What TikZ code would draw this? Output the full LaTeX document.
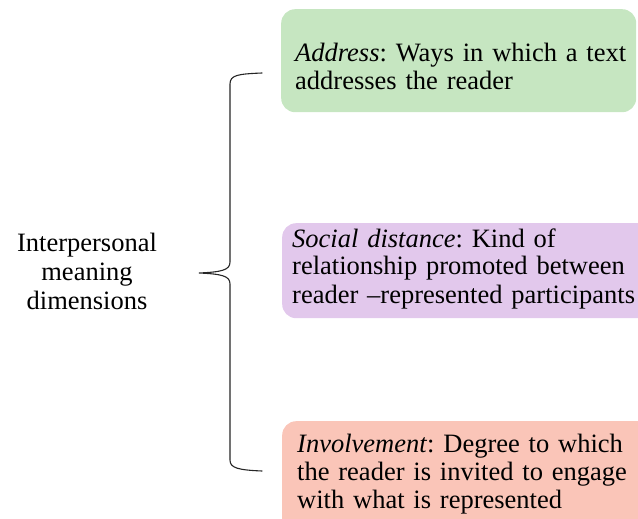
\documentclass[tikz,border=0pt]{standalone}
\usepackage{fontspec}
\setmainfont{Liberation Serif}
\definecolor{addressgreen}{RGB}{198,230,193}
\definecolor{socialpurple}{RGB}{226,200,236}
\definecolor{involvepink}{RGB}{250,197,184}
\tikzset{
    dimbox/.style = {draw=none, rounded corners=14pt, anchor=north west, inner sep=0pt},
    dimtext/.style = {anchor=base west, inner sep=0pt, text width=350pt, align=left,
        font=\fontsize{26.5}{28}\selectfont\frenchspacing},
    bracket/.style = {line width=1.1pt, black!85, line cap=round}
}
\begin{document}
\begin{tikzpicture}[x=1pt, y=-1pt]
    \useasboundingbox (0,0) rectangle (638,519);

    \node[dimbox, fill=addressgreen, minimum width=355pt, minimum height=103pt] (address) at (281,9) {};
    \node[dimbox, fill=socialpurple, minimum width=380pt, minimum height=95pt] (social) at (282,223) {};
    \node[dimbox, fill=involvepink, minimum width=380pt, minimum height=140pt] (involve) at (282,421) {};

    \node[dimtext] (address text) at (295,62) {\textit{Address}: Ways in which a text\\addresses the reader};
    \node[dimtext] (social text) at (292,247) {\textit{Social distance}: Kind of\\relationship promoted between\\reader --represented participants};
    \node[dimtext] (involve text) at (297,452) {\textit{Involvement}: Degree to which\\the reader is invited to engage\\with what is represented};

    \node[anchor=base, align=center, inner sep=0pt, font=\fontsize{26.5}{29}\selectfont] (dims) at (87,309) {Interpersonal\\meaning\\dimensions};

    \coordinate (brace top) at (262,73);
    \coordinate (brace tip) at (199,273);
    \coordinate (brace bottom) at (262,471);

    \draw[bracket] (brace top) .. controls (238,74) and (230,75) .. (230,84) -- (230,262)
        .. controls (230,270) and (222,272) .. (brace tip)
        .. controls (222,274) and (230,276) .. (230,284) -- (230,460)
        .. controls (230,468) and (238,470) .. (brace bottom);

\end{tikzpicture}
\end{document}
